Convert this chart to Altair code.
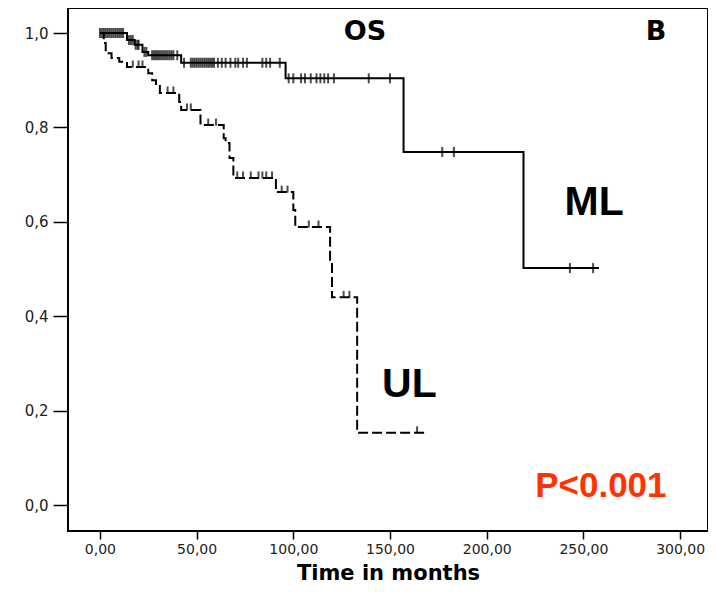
import altair as alt
import pandas as pd

# ---- data ----
ml_time = [0, 14, 18, 22, 25, 42, 96, 157, 219, 258]
ml_surv = [1.0, 0.985, 0.975, 0.96, 0.953, 0.937, 0.904, 0.748, 0.502, 0.502]

ml_cens_time = [0, 1, 2, 3, 4, 5, 6, 7, 8, 9, 10, 11, 12, 15, 16, 17, 18.5, 19.5, 20, 23, 24,
                27, 28, 29, 30, 31, 32, 33, 34, 35, 36, 37, 38, 40,
                43.5, 47, 48, 49, 50, 51, 52, 53, 54, 55, 56, 57, 58, 59, 61, 63, 65, 67.5, 70, 71.5,
                74, 76, 84, 86, 88, 93,
                97.6, 100, 104, 106, 109, 112, 114, 116, 118, 121, 139, 150,
                177, 183, 243, 255]
ml_cens_surv = [1.0] * 13 + [0.985, 0.985, 0.985, 0.975, 0.975, 0.975, 0.96, 0.96] + [0.953] * 13 + \
               [0.937] * 26 + [0.904] * 12 + [0.748, 0.748, 0.502, 0.502]

ul_time = [0, 2, 3, 6, 10, 14, 25, 27, 29, 31, 41, 42, 52, 64, 65, 67, 69, 91, 100, 101, 119, 120, 133, 168]
ul_surv = [1.0, 0.979, 0.957, 0.947, 0.939, 0.928, 0.915, 0.90, 0.89, 0.873, 0.854, 0.837, 0.805,
           0.777, 0.767, 0.735, 0.693, 0.663, 0.625, 0.589, 0.513, 0.44, 0.153, 0.153]

ul_cens_time = [17, 20, 22, 35, 38, 45, 47, 56, 60, 71, 74, 78, 82, 84, 86, 89, 94, 97, 108, 113, 126, 129, 164]
ul_cens_surv = [0.928, 0.928, 0.928, 0.873, 0.873, 0.837, 0.837, 0.805, 0.805,
                0.693, 0.693, 0.693, 0.693, 0.693, 0.693, 0.693, 0.663, 0.663,
                0.589, 0.589, 0.44, 0.44, 0.153]

x_ticks = [0, 50, 100, 150, 200, 250, 300]
y_ticks = [0.0, 0.2, 0.4, 0.6, 0.8, 1.0]

ann_text = ["OS", "B", "ML", "UL", "P<0.001"]
ann_x = [137, 287.5, 255.5, 160, 259]
ann_y = [0.985, 0.985, 0.614, 0.229, 0.017]

# ---- chart ----
xs = alt.Scale(domain=[-16.5, 314.4], nice=False, zero=False)
ys = alt.Scale(domain=[-0.055, 1.053], nice=False, zero=False)

x_axis = alt.Axis(values=x_ticks, title="Time in months",
                  labelExpr="replace(format(datum.value, '.2f'), '.', ',')",
                  tickSize=8, labelPadding=3, labelFontSize=14, grid=False, domain=False,
                  titleBaseline="alphabetic", titleY=48)
y_axis = alt.Axis(values=y_ticks, title=None,
                  labelExpr="replace(format(datum.value, '.1f'), '.', ',')",
                  tickSize=15, labelPadding=5, grid=False, domain=False)

ml_df = pd.DataFrame({"t": ml_time, "s": ml_surv})
ul_df = pd.DataFrame({"t": ul_time, "s": ul_surv})
mlc_df = pd.DataFrame({"t": ml_cens_time, "s": ml_cens_surv})
ulc_df = pd.DataFrame({"t": ul_cens_time, "s": ul_cens_surv})

ml_line = alt.Chart(ml_df).mark_line(interpolate="step-after", color="black", strokeWidth=2).encode(
    x=alt.X("t:Q", scale=xs, axis=x_axis),
    y=alt.Y("s:Q", scale=ys, axis=y_axis),
)
ul_line = alt.Chart(ul_df).mark_line(interpolate="step-after", color="black", strokeWidth=2,
                                     strokeDash=[10, 4]).encode(
    x=alt.X("t:Q", scale=xs),
    y=alt.Y("s:Q", scale=ys),
)
ml_cens = alt.Chart(mlc_df).mark_tick(orient="vertical", size=10, thickness=2, color="black").encode(
    x=alt.X("t:Q", scale=xs),
    y=alt.Y("s:Q", scale=ys),
)
ul_cens = alt.Chart(ulc_df).mark_tick(orient="vertical", size=7, thickness=2, color="black",
                                      yOffset=-3).encode(
    x=alt.X("t:Q", scale=xs),
    y=alt.Y("s:Q", scale=ys),
)

def label(i, font, size, color="black"):
    d = pd.DataFrame({"t": [ann_x[i]], "s": [ann_y[i]], "txt": [ann_text[i]]})
    return alt.Chart(d).mark_text(font=font, fontSize=size, fontWeight="bold", color=color,
                                  align="center", baseline="alphabetic").encode(
        x=alt.X("t:Q", scale=xs), y=alt.Y("s:Q", scale=ys), text="txt:N")

texts = [
    label(0, "DejaVu Sans", 27),
    label(1, "DejaVu Sans", 27),
    label(2, "Liberation Sans", 41),
    label(3, "Liberation Sans", 41),
    label(4, "Liberation Sans", 35, "#FF3300"),
]

chart = alt.layer(ml_line, ul_line, ml_cens, ul_cens, *texts).properties(
    width=640, height=523,
    autosize=alt.AutoSizeParams(type="none"),
    padding={"left": 60, "top": 0, "right": 0, "bottom": 53},
    background="white",
).configure_view(
    stroke="black", strokeWidth=2
).configure_axis(
    labelFont="DejaVu Sans", labelFontSize=15, labelColor="#222222",
    tickColor="black", tickWidth=1.5,
    titleFont="DejaVu Sans", titleFontSize=21, titleFontWeight="bold", titleColor="black",
)

chart.save("out.html", embed_options={"renderer": "svg", "actions": False})
